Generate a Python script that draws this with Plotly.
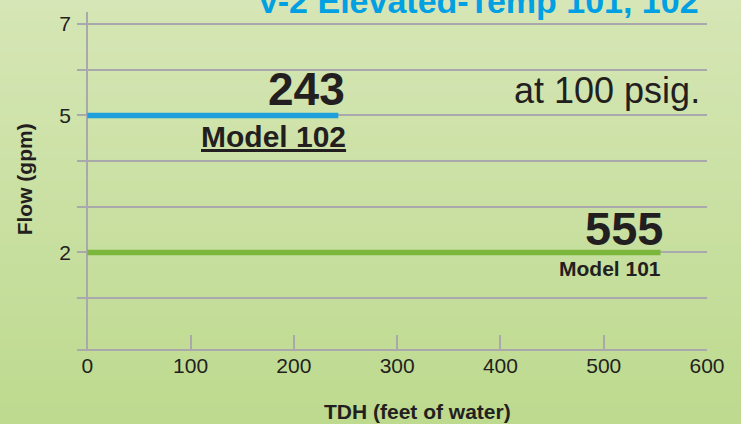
import plotly.graph_objects as go

# ---- data ----
models = ["Model 102", "Model 101"]
max_tdh = [243, 555]          # feet of water
flow_gpm = [5, 2]             # gpm
line_colors = ["#1f9fdb", "#7bb63d"]
x_ticks = [0, 100, 200, 300, 400, 500, 600]
y_ticks = [1, 2, 3, 4, 5, 6, 7]
y_tick_text = ["", "2", "", "", "5", "", "7"]
title_text = "V-2 Elevated-Temp 101, 102"
pressure_text = "at 100 psig."

FONT = "Liberation Sans, Arial, sans-serif"
DARK = "#231f20"
GRID = "#a9a9ad"

fig = go.Figure()
for m, tdh, fl, c in zip(models, max_tdh, flow_gpm, line_colors):
    fig.add_trace(go.Scatter(x=[0, tdh], y=[fl, fl], mode="lines",
                             line=dict(color=c, width=5.5), name=m,
                             showlegend=False, hoverinfo="skip"))

# background gradient (decoration)
top = (214, 230, 182)
bot = (189, 218, 142)
n = 40
y0p, y1p = -0.2226, 1.0357
for i in range(n):
    t = (i + 0.5) / n
    col = tuple(round(top[k] + (bot[k] - top[k]) * t) for k in range(3))
    ya = y1p - (y1p - y0p) * i / n
    yb = y1p - (y1p - y0p) * (i + 1) / n
    fig.add_shape(type="rect", xref="paper", yref="paper", x0=-0.13, x1=1.06,
                  y0=yb - 0.002, y1=ya + 0.002, line=dict(width=0),
                  fillcolor="rgb(%d,%d,%d)" % col, layer="below")

ann = []
value_sizes = [46, 47]
value_xshift = [9, 4]
value_yshift = [-2, -5]
model_sizes = [30, 21]
model_xshift = [10, 2]
model_yshift = [-3, -3]
for i, (m, tdh, fl) in enumerate(zip(models, max_tdh, flow_gpm)):
    ann.append(dict(x=tdh, y=fl, xref="x", yref="y", text="<b>%d</b>" % tdh,
                    showarrow=False, xanchor="right", yanchor="bottom",
                    xshift=value_xshift[i], yshift=value_yshift[i],
                    font=dict(family=FONT, size=value_sizes[i], color=DARK)))
    txt = "<b><u>%s</u></b>" % m if i == 0 else "<b>%s</b>" % m
    ann.append(dict(x=tdh, y=fl, xref="x", yref="y", text=txt,
                    showarrow=False, xanchor="right", yanchor="top",
                    xshift=model_xshift[i], yshift=model_yshift[i],
                    font=dict(family=FONT, size=model_sizes[i], color=DARK)))

ann.append(dict(x=0.992, y=0.699, xref="paper", yref="paper", text=pressure_text,
                showarrow=False, xanchor="right", yanchor="bottom",
                font=dict(family=FONT, size=36, color=DARK)))
ann.append(dict(x=0.99, y=0.971, xref="paper", yref="paper", text="<b>%s</b>" % title_text,
                showarrow=False, xanchor="right", yanchor="bottom",
                font=dict(family=FONT, size=34, color="#00a0e3")))
ann.append(dict(x=0.54, y=-0.186, xref="paper", yref="paper", text="<b>TDH (feet of water)</b>",
                showarrow=False, xanchor="center", yanchor="middle",
                font=dict(family=FONT, size=21, color=DARK)))
ann.append(dict(x=-0.082, y=0.5045, xref="paper", yref="paper", text="<b>Flow (gpm)</b>",
                showarrow=False, xanchor="center", yanchor="middle", textangle=-90,
                font=dict(family=FONT, size=21, color=DARK)))

fig.update_layout(
    width=741, height=424,
    margin=dict(l=77, r=34, t=12, b=75),
    paper_bgcolor="rgba(0,0,0,0)", plot_bgcolor="rgba(0,0,0,0)",
    annotations=ann,
    xaxis=dict(range=[-10, 600], tickvals=x_ticks, ticks="inside", ticklen=14,
               tickwidth=1.5, tickcolor=GRID, showgrid=False,
               zeroline=True, zerolinecolor=GRID, zerolinewidth=1.5,
               showline=True, linecolor=GRID, linewidth=2,
               ticklabelstandoff=-3,
               tickfont=dict(family=FONT, size=21, color=DARK)),
    yaxis=dict(range=[-0.114, 7.263], tickvals=y_ticks, ticktext=y_tick_text,
               showgrid=True, gridcolor=GRID, gridwidth=1.5, zeroline=False,
               showline=False, ticks="", ticklabelstandoff=5,
               tickfont=dict(family=FONT, size=21, color=DARK)),
)

fig.write_html("out.html", config={"displayModeBar": False},
               post_script="document.body.style.margin='0px';document.body.style.background='rgb(214,230,182)';")
